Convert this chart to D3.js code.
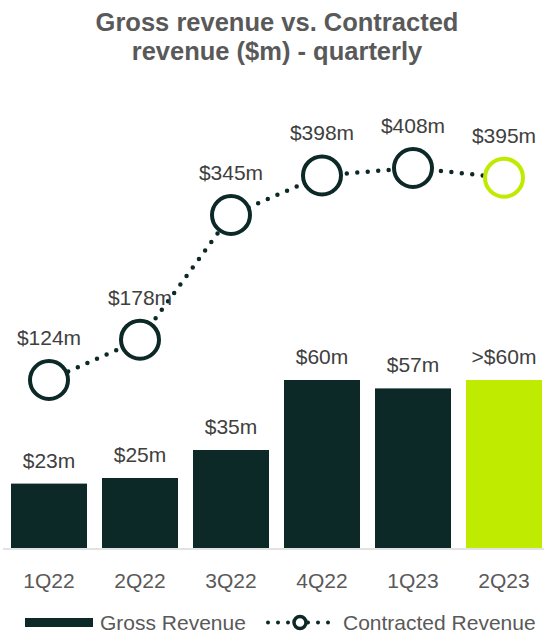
<!DOCTYPE html>
<html>
<head>
<meta charset="utf-8">
<script src="https://cdn.jsdelivr.net/npm/d3@7"></script>
<style>
  body { margin: 0; background: #fff; }
  text { font-family: Arial, "Liberation Sans", sans-serif; }
</style>
</head>
<body>
<div id="chart"></div>
<script>
let quarters = ["1Q22", "2Q22", "3Q22", "4Q22", "1Q23", "2Q23"];
let grossRevenue = [23, 25, 35, 60, 57, 60];
let grossLabels = ["$23m", "$25m", "$35m", "$60m", "$57m", ">$60m"];
let contractedRevenue = [124, 178, 345, 398, 408, 395];
let contractedLabels = ["$124m", "$178m", "$345m", "$398m", "$408m", "$395m"];
let titleLines = ["Gross revenue vs. Contracted", "revenue ($m) - quarterly"];
let legendLabels = ["Gross Revenue", "Contracted Revenue"];

let width = 544,
height = 633;

let dark = "#0c2927",
lime = "#bfeb00",
textGray = "#404040",
titleGray = "#595959";

let svg = d3.select("#chart")
.append("svg")
.attr("width", width)
.attr("height", height);

let x = d3.scaleBand()
.domain(quarters)
.range([3.5, 549.5])
.paddingInner(0.165)
.paddingOuter(0.0825);

let yBar = d3.scaleLinear()
.domain([0, 60])
.range([548, 380]);

// secondary axis for the contracted line
let yLine = d3.scaleLinear()
.domain([0, 500])
.range([472.6, 99.3]);

let isLast = i => i === quarters.length - 1;

// title
svg.append("g")
.selectAll("text")
.data(titleLines)
.enter().append("text")
.attr("x", 277)
.attr("y", (d, i) => 31 + i * 29)
.attr("text-anchor", "middle")
.attr("font-size", 25.5)
.attr("font-weight", "bold")
.attr("fill", titleGray)
.text(d => d);

// bars
svg.append("g")
.selectAll("rect")
.data(grossRevenue)
.enter().append("rect")
.attr("x", (d, i) => x(quarters[i]))
.attr("y", d => yBar(d))
.attr("width", x.bandwidth())
.attr("height", d => yBar(0) - yBar(d))
.attr("fill", (d, i) => isLast(i) ? lime : dark);

svg.append("g")
.selectAll("text")
.data(grossRevenue)
.enter().append("text")
.attr("x", (d, i) => x(quarters[i]) + x.bandwidth() / 2)
.attr("y", d => yBar(d) - 16)
.attr("text-anchor", "middle")
.attr("font-size", 21)
.attr("fill", textGray)
.text((d, i) => grossLabels[i]);

// x axis
let xAxis = svg.append("g")
.attr("transform", "translate(0," + 549 + ")")
.call(d3.axisBottom(x).tickSize(0).tickPadding(24));

xAxis.select(".domain")
.attr("d", "M3,0H544")
.attr("stroke", "#d9d9d9")
.attr("stroke-width", 1.5);

xAxis.selectAll("text")
.attr("font-size", 21)
.attr("font-family", "Arial, 'Liberation Sans', sans-serif")
.attr("fill", titleGray);

// contracted revenue line
let line = d3.line()
.x((d, i) => x(quarters[i]) + x.bandwidth() / 2)
.y(d => yLine(d));

svg.append("path")
.datum(contractedRevenue)
.attr("d", line)
.attr("fill", "none")
.attr("stroke", dark)
.attr("stroke-width", 4.5)
.attr("stroke-linecap", "round")
.attr("stroke-dasharray", "0 10.5");

svg.append("g")
.selectAll("circle")
.data(contractedRevenue)
.enter().append("circle")
.attr("cx", (d, i) => x(quarters[i]) + x.bandwidth() / 2)
.attr("cy", d => yLine(d))
.attr("r", 19)
.attr("fill", "#fff")
.attr("stroke", (d, i) => isLast(i) ? lime : dark)
.attr("stroke-width", 4);

svg.append("g")
.selectAll("text")
.data(contractedRevenue)
.enter().append("text")
.attr("x", (d, i) => x(quarters[i]) + x.bandwidth() / 2)
.attr("y", d => yLine(d) - 35)
.attr("text-anchor", "middle")
.attr("font-size", 21)
.attr("fill", textGray)
.text((d, i) => contractedLabels[i]);

// legend
let legend = svg.append("g");

legend.append("rect")
.attr("x", 25)
.attr("y", 618)
.attr("width", 68)
.attr("height", 9)
.attr("fill", dark);

legend.append("text")
.attr("x", 100)
.attr("y", 629.5)
.attr("font-size", 21)
.attr("fill", titleGray)
.text(legendLabels[0]);

legend.append("path")
.attr("d", "M268,622.5H330")
.attr("stroke", dark)
.attr("stroke-width", 4)
.attr("stroke-linecap", "round")
.attr("stroke-dasharray", "0 10");

legend.append("circle")
.attr("cx", 300)
.attr("cy", 622.5)
.attr("r", 6)
.attr("fill", "#fff")
.attr("stroke", dark)
.attr("stroke-width", 3.5);

legend.append("text")
.attr("x", 343)
.attr("y", 629.5)
.attr("font-size", 21)
.attr("fill", titleGray)
.text(legendLabels[1]);
</script>
</body>
</html>
